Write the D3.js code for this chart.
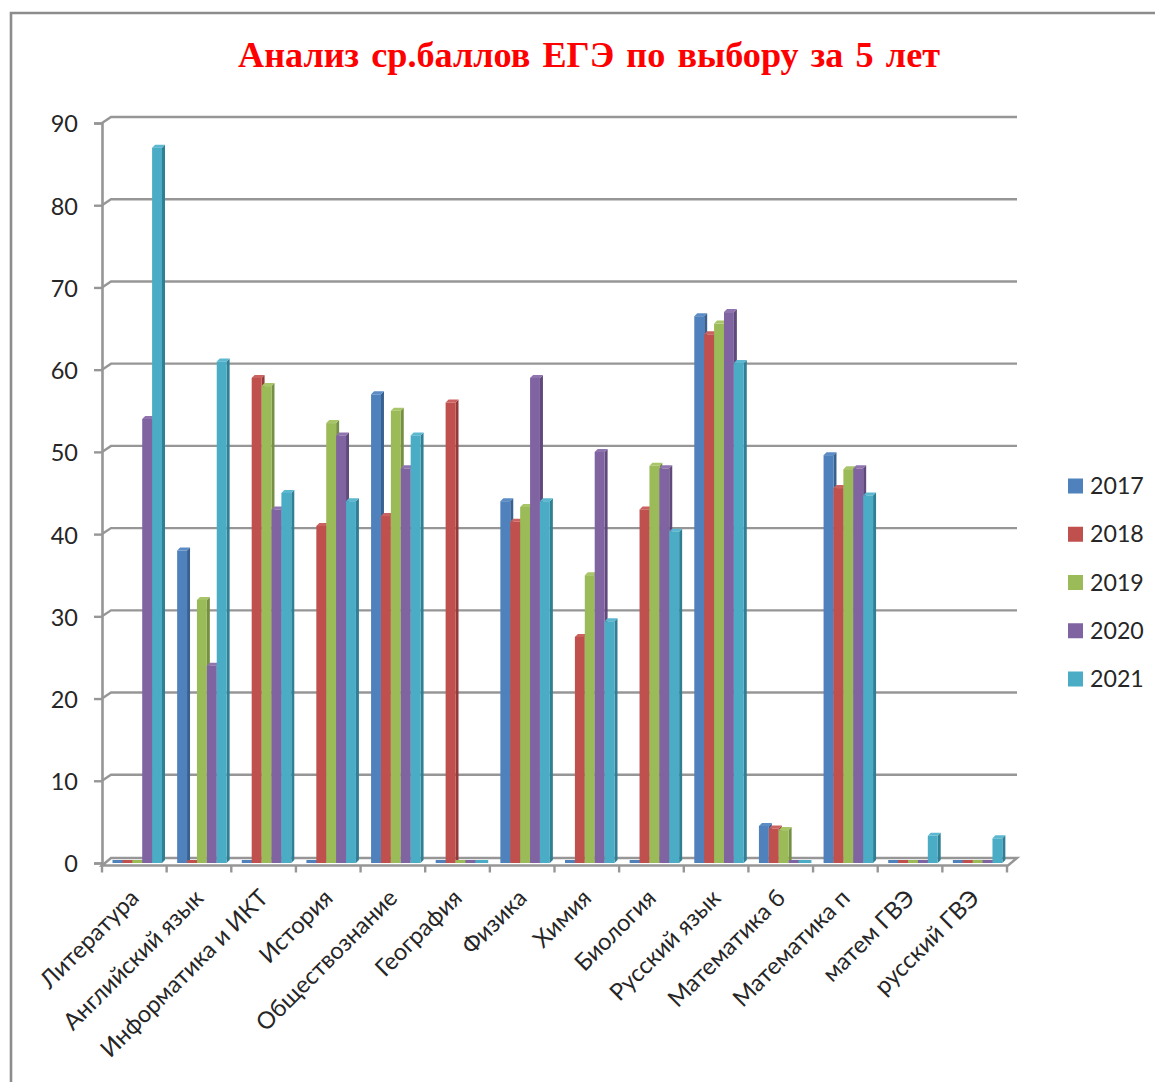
<!DOCTYPE html>
<html><head><meta charset="utf-8">
<script src="https://cdn.jsdelivr.net/npm/d3@7"></script>
<style>html,body{margin:0;padding:0;background:#fff}svg{display:block}</style></head>
<body><svg id="c" width="1155" height="1082"></svg>
<script>
const categories=["Литература","Английский язык","Информатика и ИКТ","История","Обществознание","География","Физика","Химия","Биология","Русский язык","Математика б","Математика п","матем ГВЭ","русский ГВЭ"];
const years=["2017","2018","2019","2020","2021"];
const v2017=[0,38,0,0,57,0,44,0,0,66.5,4.5,49.6,0,0];
const v2018=[0,0,59,41,42.2,56,41.5,27.5,43,64.3,4.2,45.6,0,0];
const v2019=[0,32,58,53.5,55,0,43.3,35,48.3,65.6,4,47.9,0,0];
const v2020=[54,24,43,52,48,0,59,50,48,67,0,48,0,0];
const v2021=[87,61,45,44,52,0,44,29.4,40.3,60.8,0,44.7,3.3,3];
const seriesValues=[v2017,v2018,v2019,v2020,v2021];
const faceColors=["#4f81bd","#c0504d","#9bbb59","#8064a2","#4bacc6"];
const sideColors=["#386190","#943b39","#759045","#604a7c","#317f95"];
const topColors=["#5b8cc6","#cb625f","#a8c568","#8f74b0","#5cb8d0"];
const yTicks=d3.range(0,100,10);
const svg=d3.select("#c");
const grey="#969696",greyDark="#8c8c8c";
// frame
svg.append("path").attr("d","M11,1082V13H1155").attr("fill","none").attr("stroke",greyDark).attr("stroke-width",2.6);
// title
svg.append("text").attr("x",238).attr("y",67)
 .attr("font-family","Liberation Serif").attr("font-weight","bold").attr("font-size",35).attr("word-spacing",3)
 .attr("textLength",702).attr("lengthAdjust","spacingAndGlyphs").attr("fill","#ff0000")
 .text("Анализ ср.баллов ЕГЭ по выбору за 5 лет");
const y=d3.scaleLinear().domain([0,90]).range([863,123]);
const x0=d3.scaleBand().domain(categories).range([102,1007]);
const x1=d3.scaleBand().domain(years).range([10.5,60]);
const dx=9,dy=6;
// gridlines (back wall)
const gp=svg.append("g").attr("fill","none").attr("stroke",grey).attr("stroke-width",2.4);
yTicks.slice(1).forEach(t=>{
 gp.append("path").attr("d",`M102,${y(t)}L${102+dx},${y(t)-dy}H1017`);
});
// floor
svg.append("path").attr("d",`M102,${y(0)+2.5}L${102+dx},${y(0)-5}H1017L1008,${y(0)+2.5}Z`)
 .attr("fill","#fff").attr("stroke",grey).attr("stroke-width",2.4);
// axes
const ya=d3.axisLeft(y).tickValues(yTicks).tickSize(8).tickPadding(16);
const gy=svg.append("g").attr("transform","translate(102,0)").call(ya);
gy.select(".domain").attr("stroke",grey).attr("stroke-width",2.6);
gy.selectAll("line").attr("stroke",grey).attr("stroke-width",2.4);
gy.selectAll("text").attr("font-family","Lato").attr("font-size",23.5).attr("fill","#262626").attr("dy","0.38em");
const gx=svg.append("g").attr("transform",`translate(0,${y(0)+2.5})`);
d3.range(categories.length+1).forEach(i=>{
 const px=i<categories.length?x0(categories[i]):1007;
 gx.append("line").attr("x1",px).attr("x2",px).attr("y1",0).attr("y2",7).attr("stroke",grey).attr("stroke-width",2.4);
});
categories.forEach(c=>{
 const px=x0(c)+x0.bandwidth()/2+6, py=34;
 gx.append("text").attr("transform",`translate(${px},${py}) rotate(-45)`).attr("text-anchor","end")
  .attr("font-family","Lato").attr("font-size",23.6).attr("fill","#262626").text(c);
});
// bars
const depthX=3,depthY=3,bw=x1.bandwidth();
const bars=svg.append("g");
categories.forEach((c,ci)=>{
 years.forEach((yr,si)=>{
  const val=seriesValues[si][ci];
  const bx=x0(c)+x1(yr), top=y(val), base=y(0), g=bars.append("g");
  if(val===0){
   g.append("rect").attr("x",bx).attr("y",base-3).attr("width",bw+depthX).attr("height",3).attr("fill",faceColors[si]);
   return;
  }
  g.append("path").attr("d",`M${bx+bw},${top}l${depthX},${-depthY}V${base-depthY}l${-depthX},${depthY}Z`).attr("fill",sideColors[si]);
  g.append("path").attr("d",`M${bx},${top}l${depthX},${-depthY}h${bw}l${-depthX},${depthY}Z`).attr("fill",topColors[si]);
  g.append("rect").attr("x",bx).attr("y",top).attr("width",bw).attr("height",base-top).attr("fill",faceColors[si]);
 });
});
// legend
const legendY=d3.scalePoint().domain(years).range([486,679]);
const lg=svg.append("g");
years.forEach((yr,i)=>{
 lg.append("rect").attr("x",1068).attr("y",legendY(yr)-7.5).attr("width",15).attr("height",15).attr("fill",faceColors[i]);
 lg.append("text").attr("x",1090).attr("y",legendY(yr)+8).attr("font-family","Lato").attr("font-size",23.2).attr("fill","#262626").text(yr);
});
</script></body></html>
